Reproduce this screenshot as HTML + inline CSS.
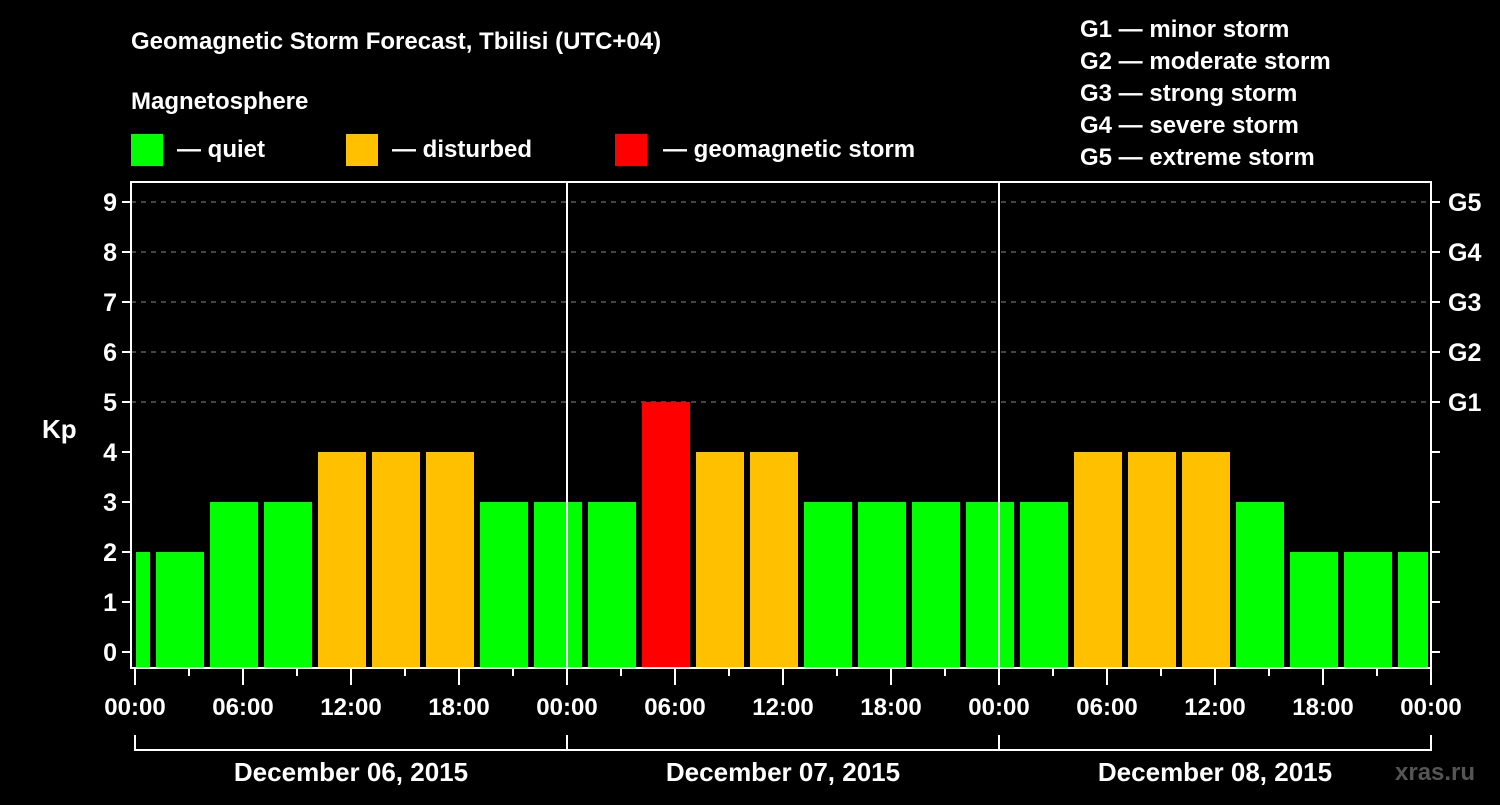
<!DOCTYPE html>
<html><head><meta charset="utf-8"><style>
body{margin:0;background:#000;width:1500px;height:800px;overflow:hidden}
svg text{font-family:"Liberation Sans",sans-serif;font-weight:bold;fill:#fff}
</style></head><body>
<svg id="chart" width="1500" height="800" xmlns="http://www.w3.org/2000/svg">
<text x="131" y="49" font-size="24">Geomagnetic Storm Forecast, Tbilisi (UTC+04)</text>
<text x="131" y="109" font-size="24">Magnetosphere</text>
<g><rect x="131" y="134" width="32" height="32" fill="#00ff00"/><text x="177" y="157" font-size="24">— quiet</text></g>
<g><rect x="346" y="134" width="32" height="32" fill="#ffc000"/><text x="392" y="157" font-size="24">— disturbed</text></g>
<g><rect x="615" y="134" width="32" height="32" fill="#ff0000"/><text x="663" y="157" font-size="24">— geomagnetic storm</text></g>
<g font-size="24">
<text x="1080" y="37">G1 — minor storm</text><text x="1080" y="69">G2 — moderate storm</text><text x="1080" y="101">G3 — strong storm</text><text x="1080" y="133">G4 — severe storm</text><text x="1080" y="165">G5 — extreme storm</text>
</g>
<text x="42" y="438" font-size="26">Kp</text>
<text x="1395" y="780" font-size="24" fill="#555" style="fill:#555">xras.ru</text>
<g id="plot"></g>
</svg>
<script>
const kpValues=[2,2,3,3,4,4,4,3,3,3,5,4,4,3,3,3,3,3,4,4,4,3,2,2,2];
const startHour=-2;
const yTicks=[0,1,2,3,4,5,6,7,8,9];
const gLabels=["G1","G2","G3","G4","G5"];
const xLabels=["00:00","06:00","12:00","18:00","00:00","06:00","12:00","18:00","00:00","06:00","12:00","18:00","00:00"];
const dayLabels=["December 06, 2015","December 07, 2015","December 08, 2015"];
const NS="http://www.w3.org/2000/svg";
const X0=135,PXH=18,L=131,R=1431,T=182,B=668;
const xs=h=>X0+h*PXH, ys=v=>652-v*50;
const g=document.getElementById('plot');
function mk(tag,at){const e=document.createElementNS(NS,tag);for(const k in at)e.setAttribute(k,at[k]);g.appendChild(e);return e;}
function col(v){return v>=5?'#ff0000':v>=4?'#ffc000':'#00ff00';}
// grid
yTicks.filter(v=>v>=5).forEach(v=>{const e=mk('line',{x1:L,x2:R,y1:ys(v),y2:ys(v),stroke:'#888','stroke-width':1,'stroke-dasharray':'5,5'});

});
// bars
kpValues.forEach((v,i)=>{const h=startHour+i*3;let x1=xs(h)+3,x2=xs(h+3)-3;x1=Math.max(x1,L+5);x2=Math.min(x2,R-3);
const e=mk('rect',{x:x1,y:ys(v),width:x2-x1,height:B-ys(v),fill:col(v)});

});
// frame
const fr=mk('rect',{x:L,y:T,width:R-L,height:B-T,fill:'none',stroke:'#fff','stroke-width':2});


[24,48].forEach(h=>{const e=mk('line',{x1:xs(h),x2:xs(h),y1:T,y2:B,stroke:'#fff','stroke-width':2});

});
// y ticks
yTicks.forEach(v=>{mk('line',{x1:L-9,x2:L,y1:ys(v),y2:ys(v),stroke:'#fff','stroke-width':2});
mk('line',{x1:R,x2:R+9,y1:ys(v),y2:ys(v),stroke:'#fff','stroke-width':2});
const t=mk('text',{x:L-14,y:ys(v)+9,'font-size':25,'text-anchor':'end'});t.textContent=v;

});
gLabels.forEach((s,i)=>{const t=mk('text',{x:R+17,y:ys(5+i)+9,'font-size':25});t.textContent=s;

});
// x ticks
for(let h=0;h<=72;h+=3){const major=h%6===0;mk('line',{x1:xs(h),x2:xs(h),y1:B,y2:B+(major?17:8),stroke:'#fff','stroke-width':2});}
xLabels.forEach((s,i)=>{const t=mk('text',{x:xs(i*6),y:715,'font-size':24,'text-anchor':'middle'});t.textContent=s;

});
// day brackets
mk('line',{x1:xs(0),x2:xs(72),y1:750,y2:750,stroke:'#fff','stroke-width':2});
[0,24,48,72].forEach(h=>mk('line',{x1:xs(h),x2:xs(h),y1:735,y2:751,stroke:'#fff','stroke-width':2}));
dayLabels.forEach((s,i)=>{const t=mk('text',{x:xs(i*24+12),y:781,'font-size':26,'text-anchor':'middle'});t.textContent=s;

});
</script>
</body></html>
